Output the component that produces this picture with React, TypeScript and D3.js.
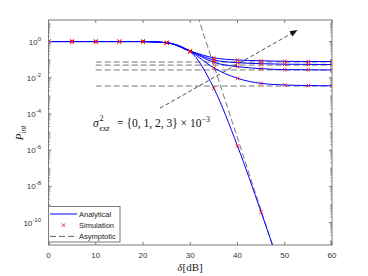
import React from 'react';
import * as d3 from 'd3';

// SNR grid (dB)
const snrDb = [0, 5, 10, 15, 20, 25, 30, 35, 40, 45, 50, 55, 60];
// Analytical / simulated P_int, four error-floor curves (top to bottom) and the ideal curve
const curveA = [1, 1, 1, 1, 1, 0.87, 0.30, 0.126, 0.0955, 0.087, 0.081, 0.079, 0.079];
const curveB = [1, 1, 1, 1, 1, 0.87, 0.295, 0.0955, 0.068, 0.060, 0.056, 0.055, 0.054];
const curveC = [1, 1, 1, 1, 1, 0.86, 0.29, 0.071, 0.041, 0.032, 0.028, 0.0275, 0.027];
const curveD = [1, 1, 1, 1, 1, 0.855, 0.28, 0.035, 0.0093, 0.0049, 0.0040, 0.0037, 0.0036];
const curveE = [1, 1, 1, 1, 1, 0.85, 0.275, 0.0026, 1.7e-6, 3.8e-10, 6.3e-14, 1e-17, 1e-21];
const curves = [curveA, curveB, curveC, curveD, curveE];

// Asymptotes
const floorValues = [0.074, 0.050, 0.027, 0.0035];
const floorDb = [10, 60];
const steepDb = [31, 50];
const steepP = [74, 4.7e-14];
// Arrow annotation
const arrowDb = [23.6, 52.7];
const arrowP = [2.1e-4, 4.3];

const xTicks = [0, 10, 20, 30, 40, 50, 60];
const yTickExp = [0, -2, -4, -6, -8, -10];
const legendItems = ['Analytical', 'Simulation', 'Asymptotic'];

const W = 368, H = 276;
const L = 48.5, R = 332, T = 20, B = 245;

export default function App() {
  const x = d3.scaleLinear().domain([0, 60]).range([L, R]);
  const y = d3.scaleLog().domain([5.8e-12, 15.5]).range([B, T]);
  const line = d3
    .line<number>()
    .x((_, i) => x(snrDb[i]))
    .y((d) => y(d))
    .curve(d3.curveMonotoneX);

  const axisColor = '#7a7a7a';
  const textColor = '#333';
  const sans = 'Liberation Sans, Arial, sans-serif';
  const serif = 'Liberation Serif, Times New Roman, serif';

  // minor ticks on log axis
  const minor: number[] = [];
  for (let e = -12; e <= 1; e++) {
    for (let m = 1; m <= 9; m++) {
      const v = m * Math.pow(10, e);
      if (v < y.domain()[0] || v > y.domain()[1]) continue;
      if (m === 1 && e % 2 === 0) continue;
      minor.push(v);
    }
  }

  const markerPath = (cx: number, cy: number, s = 1.8) =>
    `M${cx - s},${cy - s}L${cx + s},${cy + s}M${cx - s},${cy + s}L${cx + s},${cy - s}`;

  const ax0 = x(arrowDb[0]), ay0 = y(arrowP[0]);
  const ax1 = x(arrowDb[1]), ay1 = y(arrowP[1]);
  const ang = Math.atan2(ay1 - ay0, ax1 - ax0);
  const ah = 7.5, aw = 3;
  const bx = ax1 - ah * Math.cos(ang), by = ay1 - ah * Math.sin(ang);
  const arrowHead = `M${ax1},${ay1}L${bx + aw * Math.sin(ang)},${by - aw * Math.cos(ang)}L${bx - aw * Math.sin(ang)},${by + aw * Math.cos(ang)}Z`;

  return (
    <svg width={W} height={H} style={{ position: 'absolute', left: 0, top: 0, background: '#fff' }}>
      <defs>
        <clipPath id="plotClip">
          <rect x={L} y={T} width={R - L} height={B - T} />
        </clipPath>
      </defs>
      <rect x={L} y={T} width={R - L} height={B - T} fill="#fff" />

      <g clipPath="url(#plotClip)">
        {/* floor asymptotes */}
        {floorValues.map((v, i) => (
          <line key={'f' + i} x1={x(floorDb[0])} x2={x(floorDb[1])} y1={y(v)} y2={y(v)}
            stroke="#555" strokeWidth={0.8} strokeDasharray="6,3" />
        ))}
        <line x1={x(steepDb[0])} y1={y(steepP[0])} x2={x(steepDb[1])} y2={y(steepP[1])}
          stroke="#555" strokeWidth={0.8} strokeDasharray="6,3" />
        {/* analytical */}
        {curves.map((c, i) => (
          <path key={'c' + i} d={line(c) || ''} fill="none" stroke="#0000ff" strokeWidth={1} />
        ))}
        {/* simulation */}
        {curves.map((c, i) =>
          c.map((v, j) =>
            v >= y.domain()[0] ? (
              <path key={'m' + i + '-' + j} d={markerPath(x(snrDb[j]), y(v))} stroke="#ff0000" strokeWidth={0.8} fill="none" />
            ) : null
          )
        )}
        {/* arrow */}
        <line x1={ax0} y1={ay0} x2={bx} y2={by} stroke="#222" strokeWidth={0.8} strokeDasharray="4,2.5" />
        <path d={arrowHead} fill="#111" />
      </g>

      {/* axes box */}
      <rect x={L} y={T} width={R - L} height={B - T} fill="none" stroke={axisColor} strokeWidth={1} />
      {xTicks.map((t) => (
        <g key={'xt' + t}>
          <line x1={x(t)} x2={x(t)} y1={B} y2={B - 3} stroke={axisColor} />
          <line x1={x(t)} x2={x(t)} y1={T} y2={T + 3} stroke={axisColor} />
          <text x={x(t)} y={258} fontSize={8} fontFamily={sans} fill={textColor} textAnchor="middle">{t}</text>
        </g>
      ))}
      {yTickExp.map((e) => {
        const yy = y(Math.pow(10, e));
        return (
          <g key={'yt' + e}>
            <line x1={L} x2={L + 3} y1={yy} y2={yy} stroke={axisColor} />
            <line x1={R} x2={R - 3} y1={yy} y2={yy} stroke={axisColor} />
            <text x={41} y={yy + 3} fontSize={8} fontFamily={sans} fill={textColor} textAnchor="end">
              10<tspan dy={-4} fontSize={6}>{e}</tspan>
            </text>
          </g>
        );
      })}
      {minor.map((v, i) => (
        <g key={'mn' + i}>
          <line x1={L} x2={L + 1.8} y1={y(v)} y2={y(v)} stroke={axisColor} strokeWidth={0.7} />
          <line x1={R} x2={R - 1.8} y1={y(v)} y2={y(v)} stroke={axisColor} strokeWidth={0.7} />
        </g>
      ))}

      {/* axis labels */}
      <text x={190} y={271} fontSize={11} fontFamily={serif} fill="#222" textAnchor="middle">
        <tspan fontStyle="italic">δ</tspan>[dB]
      </text>
      <text transform="translate(23,133) rotate(-90)" fontSize={11} fontFamily={serif} fill="#222" textAnchor="middle" fontStyle="italic">
        P<tspan dy={2.5} fontSize={7.5}>int</tspan>
      </text>

      {/* annotation */}
      <text x={93} y={127} fontSize={11.5} fontFamily={serif} fontStyle="italic" fill="#111">σ</text>
      <text x={99.5} y={121} fontSize={8} fontFamily={serif} fill="#111">2</text>
      <text x={99.5} y={130.5} fontSize={8} fontFamily={serif} fontStyle="italic" fill="#111">ϵxz</text>
      <text x={117} y={127} fontSize={11.5} fontFamily={serif} fill="#111">
        = {'{'}0, 1, 2, 3{'}'} × 10<tspan dy={-5} fontSize={8}>−3</tspan>
      </text>

      {/* legend */}
      <rect x={L} y={206.5} width={71.5} height={35.5} fill="#fff" stroke={axisColor} strokeWidth={1} />
      {legendItems.map((s, i) => {
        const ly = 214 + i * 11.2;
        return (
          <g key={'lg' + i}>
            {i === 0 && <line x1={50} x2={77} y1={ly} y2={ly} stroke="#0000ff" strokeWidth={1} />}
            {i === 1 && <path d={markerPath(63.5, ly)} stroke="#ff0000" strokeWidth={0.8} fill="none" />}
            {i === 2 && <line x1={50} x2={77} y1={ly} y2={ly} stroke="#333" strokeWidth={0.8} strokeDasharray="6,3" />}
            <text x={79} y={ly + 2.7} fontSize={7.5} fontFamily={sans} fill="#222">{s}</text>
          </g>
        );
      })}
    </svg>
  );
}
